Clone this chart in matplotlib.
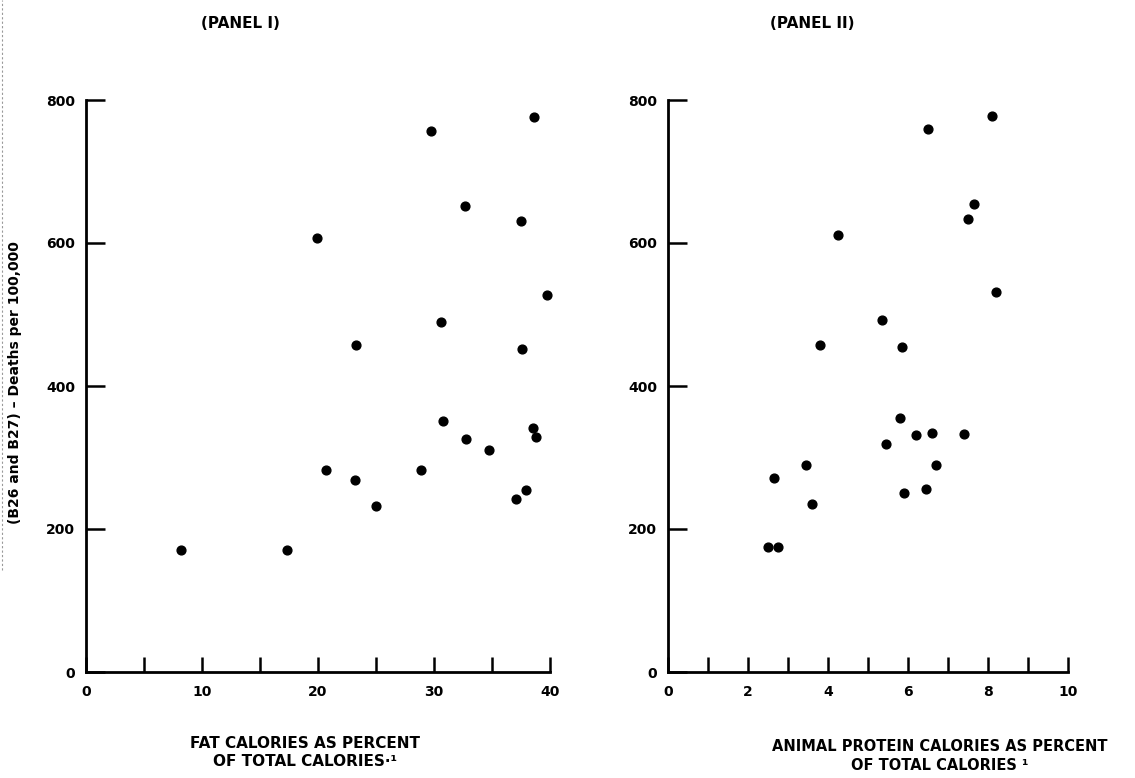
import matplotlib
matplotlib.use("Agg")
import matplotlib.pyplot as plt
from matplotlib.lines import Line2D

# Panel I: fat calories as percent of total calories vs deaths per 100,000
fat_pct = [8.2, 17.3, 19.9, 20.7, 23.3, 23.2, 25.0, 28.9, 29.7, 30.6, 30.8,
           32.7, 32.8, 34.7, 37.5, 37.6, 37.1, 37.9, 38.6, 38.5, 38.8, 39.7]
fat_deaths = [170, 171, 607, 283, 457, 268, 232, 283, 757, 489, 351,
              652, 326, 310, 631, 452, 242, 255, 776, 341, 328, 527]

# Panel II: animal protein calories as percent of total calories vs deaths
prot_pct = [2.5, 2.75, 2.65, 3.45, 3.6, 3.8, 4.25, 5.35, 5.45, 5.8, 5.85,
            5.9, 6.2, 6.5, 6.45, 6.6, 6.7, 7.4, 7.5, 7.65, 8.1, 8.2]
prot_deaths = [175, 175, 272, 289, 235, 458, 611, 492, 319, 355, 455,
               250, 332, 760, 256, 334, 290, 333, 633, 655, 777, 531]

y_ticks = [0, 200, 400, 600, 800]
x1_ticks_major = [0, 10, 20, 30, 40]
x1_ticks_minor = [5, 15, 25, 35]
x2_ticks_major = [0, 2, 4, 6, 8, 10]
x2_ticks_minor = [1, 3, 5, 7, 9]

FONT = "DejaVu Sans"
plt.rcParams['font.family'] = [FONT]
plt.rcParams['font.weight'] = 'bold'

W, H = 1135, 778
fig = plt.figure(figsize=(W / 100, H / 100), dpi=100)
fig.patch.set_facecolor("white")


def px_axes(x0, x1, ytop, ybot):
    return fig.add_axes([x0 / W, 1 - ybot / H, (x1 - x0) / W, (ybot - ytop) / H])


def style(ax, xlim, xmaj, xmin):
    ax.set_xlim(xlim)
    ax.set_ylim(0, 800)
    for s in ("top", "right"):
        ax.spines[s].set_visible(False)
    for s in ("left", "bottom"):
        ax.spines[s].set_linewidth(2.0)
        ax.spines[s].set_color("black")
    ax.set_xticks(xmaj)
    ax.set_xticks(xmin, minor=True)
    ax.set_yticks(y_ticks)
    ax.tick_params(axis="x", which="both", direction="in", length=11, width=1.8,
                   pad=9, labelsize=10)
    ax.tick_params(axis="y", which="both", direction="in", length=14, width=1.8,
                   pad=8, labelsize=10)
    ax.set_xticklabels([str(v) for v in xmaj], fontweight="bold")
    ax.set_yticklabels([str(v) for v in y_ticks], fontweight="bold")
    ax.set_facecolor("white")


ax1 = px_axes(86, 550, 100, 672)
ax1.scatter(fat_pct, fat_deaths, s=40, color="black", zorder=3, clip_on=False)
style(ax1, (0, 40), x1_ticks_major, x1_ticks_minor)

ax2 = px_axes(668, 1068, 100, 672)
ax2.scatter(prot_pct, prot_deaths, s=40, color="black", zorder=3, clip_on=False)
style(ax2, (0, 10), x2_ticks_major, x2_ticks_minor)

# faint scan edge at the left border
fig.add_artist(Line2D([2 / W, 2 / W], [1 - 570 / H, 1.0], transform=fig.transFigure,
                      color="#999999", linewidth=0.8, linestyle=(0, (2, 2))))

fig.text(240 / W, 1 - 24 / H, "(PANEL I)", ha="center", va="center",
         fontsize=11, fontweight="bold")
fig.text(812 / W, 1 - 24 / H, "(PANEL II)", ha="center", va="center",
         fontsize=11, fontweight="bold")

fig.text(15 / W, 1 - 383 / H, "(B26 and B27) \u2013 Deaths per 100,000",
         rotation=90, ha="center", va="center", fontsize=10, fontweight="bold")

fig.text(305 / W, 1 - 753 / H, "FAT CALORIES AS PERCENT\nOF TOTAL CALORIES\u00b7\u00b9",
         ha="center", va="center", fontsize=11, fontweight="bold", linespacing=1.25)
fig.text(940 / W, 1 - 756 / H, "ANIMAL PROTEIN CALORIES AS PERCENT\nOF TOTAL CALORIES \u00b9",
         ha="center", va="center", fontsize=10.5, fontweight="bold", linespacing=1.3)

fig.savefig("out.png", dpi=100, facecolor="white")
